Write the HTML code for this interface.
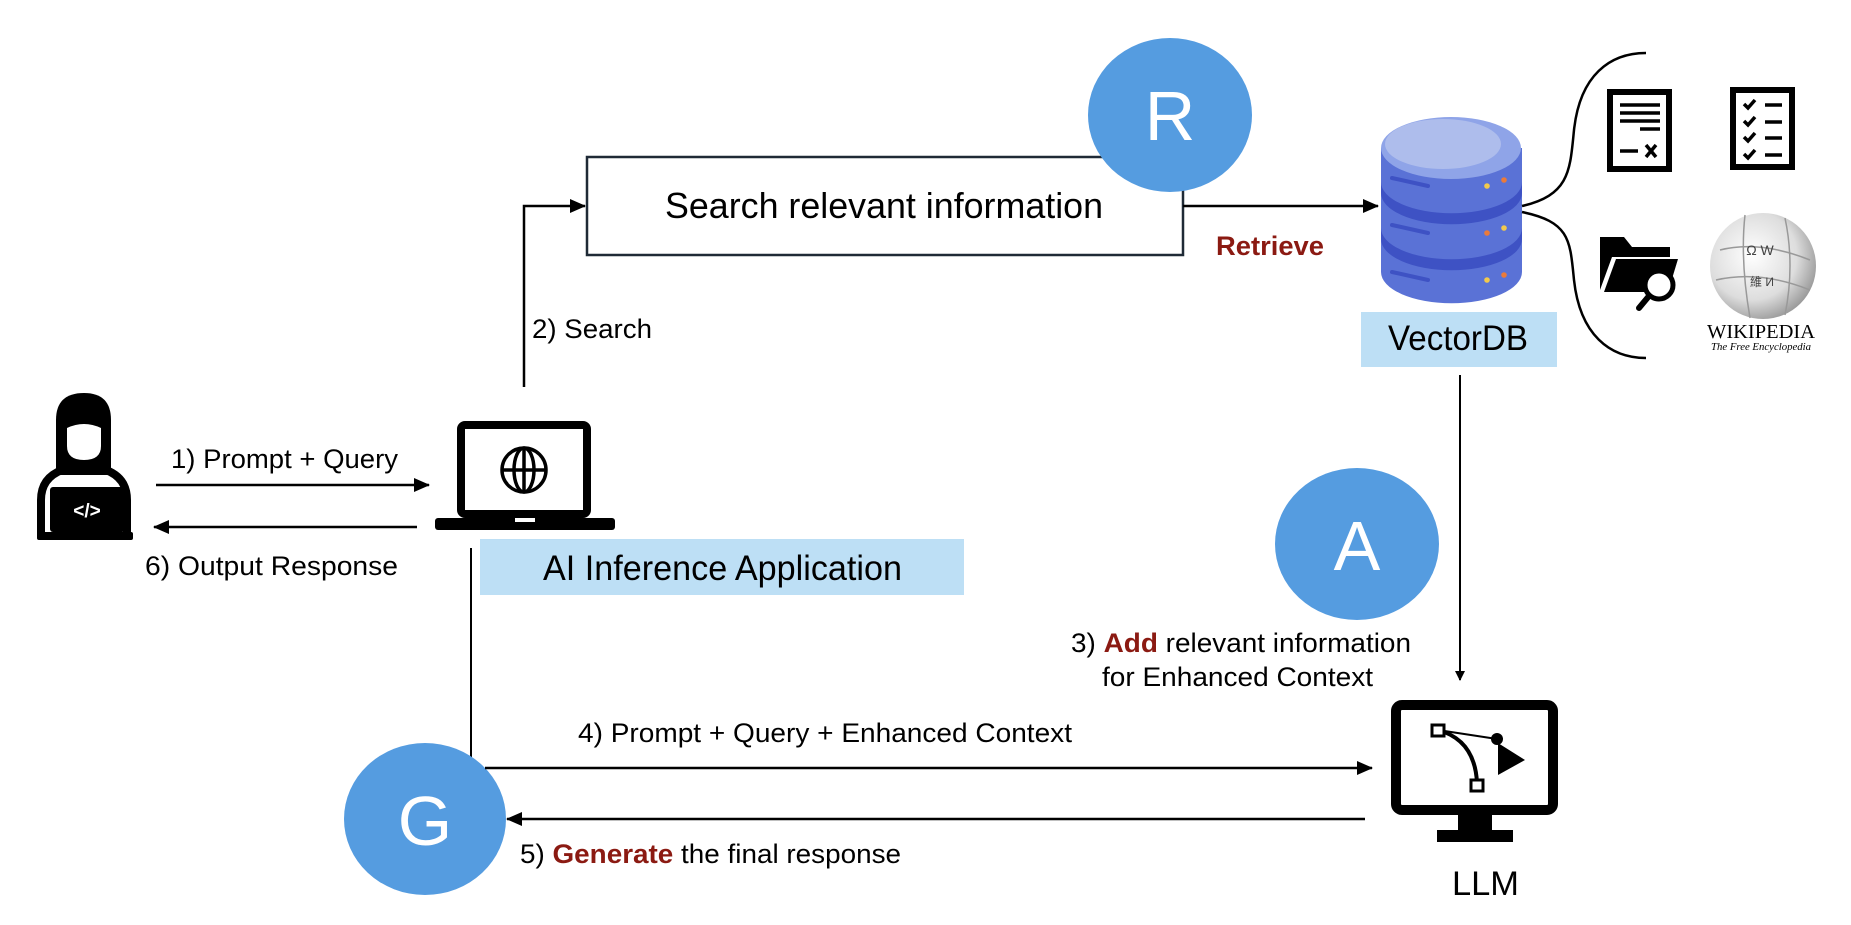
<!DOCTYPE html>
<html><head><meta charset="utf-8"><style>html,body{margin:0;padding:0;background:#fff}svg{display:block}text{font-family:"Liberation Sans",Arial,sans-serif}</style></head>
<body>
<svg width="1851" height="925" viewBox="0 0 1851 925" xmlns="http://www.w3.org/2000/svg">
<defs>
<marker id="ah" markerWidth="10" markerHeight="10" refX="9" refY="5" orient="auto" markerUnits="userSpaceOnUse"><path d="M0,0 L10,5 L0,10 z" fill="#000"/></marker>
<marker id="ah2" markerWidth="16" markerHeight="14" refX="15" refY="7" orient="auto" markerUnits="userSpaceOnUse"><path d="M0,0 L16,7 L0,14 z" fill="#000"/></marker>
</defs>

<!-- person -->
<g>
<path d="M41,538 L41,500 Q41,478 62,470 L72,466 Q84,472 96,466 L106,470 Q127,478 127,500 L127,538" fill="none" stroke="#000" stroke-width="8"/>
<path d="M56,475 L56,420 Q56,393 84,393 Q111,393 111,420 L111,475 Z" fill="#000"/>
<path d="M67,428 Q84,420 101,428 L101,446 Q101,460 84,460 Q67,460 67,446 Z" fill="#fff"/>
<rect x="50" y="487" width="75" height="45" rx="3" fill="#000"/>
<rect x="37" y="532" width="96" height="8" rx="2" fill="#000"/>
<text x="87" y="517" font-size="19" fill="#fff" text-anchor="middle" font-weight="bold">&lt;/&gt;</text>
</g>

<!-- arrows 1 / 6 -->
<line x1="156" y1="485" x2="429" y2="485" stroke="#000" stroke-width="2.5" marker-end="url(#ah2)"/>
<line x1="417" y1="527" x2="154" y2="527" stroke="#000" stroke-width="2.5" marker-end="url(#ah2)"/>
<text x="171" y="468" font-size="27" textLength="227" lengthAdjust="spacingAndGlyphs">1) Prompt + Query</text>
<text x="145" y="575" font-size="27" textLength="253" lengthAdjust="spacingAndGlyphs">6) Output Response</text>

<!-- laptop -->
<rect x="461" y="425" width="126" height="89" rx="4" fill="#fff" stroke="#000" stroke-width="8"/>
<rect x="435" y="518" width="180" height="12" rx="3" fill="#000"/>
<rect x="515" y="518" width="20" height="4" fill="#fff"/>
<g fill="none" stroke="#000" stroke-width="3.5">
<circle cx="524" cy="470" r="22"/>
<ellipse cx="524" cy="470" rx="10" ry="22"/>
<line x1="524" y1="448" x2="524" y2="492"/>
<line x1="502" y1="470" x2="546" y2="470"/>
</g>

<!-- AI box -->
<rect x="480" y="539" width="484" height="56" fill="#bddff5"/>
<text x="543" y="580" font-size="35" textLength="359" lengthAdjust="spacingAndGlyphs">AI Inference Application</text>

<!-- search path -->
<polyline points="524,387 524,206 585,206" fill="none" stroke="#000" stroke-width="2.5" marker-end="url(#ah2)"/>
<text x="532" y="338" font-size="27" textLength="120" lengthAdjust="spacingAndGlyphs">2) Search</text>
<rect x="587" y="157" width="596" height="98" fill="#fff" stroke="#1f2a36" stroke-width="2.5"/>
<text x="665" y="218" font-size="36" textLength="438" lengthAdjust="spacingAndGlyphs">Search relevant information</text>

<!-- R -->
<ellipse cx="1170" cy="115" rx="82" ry="77" fill="#559ce0"/>
<text x="1170" y="140" font-size="70" fill="#fff" text-anchor="middle">R</text>

<!-- retrieve -->
<line x1="1183" y1="206" x2="1378" y2="206" stroke="#000" stroke-width="2.5" marker-end="url(#ah2)"/>
<text x="1216" y="255" font-size="27" font-weight="bold" fill="#8b1a12" textLength="108" lengthAdjust="spacingAndGlyphs">Retrieve</text>

<!-- DB -->
<g>
<path d="M1381,148 L1381,272 A70,31 0 0 0 1522,272 L1522,148 Z" fill="#5a72d6"/>
<path d="M1381,182 A70,31 0 0 0 1522,182 L1522,193 A70,31 0 0 1 1381,193 Z" fill="#3e52c4"/>
<path d="M1381,228 A70,31 0 0 0 1522,228 L1522,239 A70,31 0 0 1 1381,239 Z" fill="#3e52c4"/>
<ellipse cx="1451" cy="148" rx="70" ry="31" fill="#8fa4e8"/>
<ellipse cx="1443" cy="144" rx="58" ry="25" fill="#aebdec"/>
<g stroke="#3e52c4" stroke-width="4" stroke-linecap="round"><line x1="1392" y1="178" x2="1428" y2="186"/><line x1="1392" y1="225" x2="1428" y2="233"/><line x1="1392" y1="272" x2="1428" y2="280"/></g>
<g><circle cx="1487" cy="186" r="2.8" fill="#f2c94c"/><circle cx="1504" cy="180" r="2.8" fill="#eb7a3a"/><circle cx="1487" cy="233" r="2.8" fill="#eb7a3a"/><circle cx="1504" cy="228" r="2.8" fill="#f2c94c"/><circle cx="1487" cy="280" r="2.8" fill="#f2c94c"/><circle cx="1504" cy="275" r="2.8" fill="#eb7a3a"/></g>
</g>
<rect x="1361" y="312" width="196" height="55" fill="#bddff5"/>
<text x="1388" y="350" font-size="35" textLength="140" lengthAdjust="spacingAndGlyphs">VectorDB</text>

<!-- brace -->
<path d="M1522,206 C1570,195 1570,170 1574,130 C1580,75 1610,53 1646,53" fill="none" stroke="#000" stroke-width="2.5"/>
<path d="M1522,212 C1570,222 1570,240 1574,280 C1580,335 1610,358 1646,358" fill="none" stroke="#000" stroke-width="2.5"/>

<!-- doc icon -->
<rect x="1610" y="92" width="59" height="77" fill="#fff" stroke="#000" stroke-width="6"/>
<g stroke="#000" stroke-width="3.5"><line x1="1620" y1="105" x2="1660" y2="105"/><line x1="1620" y1="113" x2="1660" y2="113"/><line x1="1620" y1="121" x2="1660" y2="121"/><line x1="1640" y1="129" x2="1660" y2="129"/><line x1="1620" y1="151" x2="1638" y2="151"/><line x1="1646" y1="145" x2="1656" y2="157"/><line x1="1656" y1="145" x2="1646" y2="157"/></g>
<!-- checklist -->
<rect x="1733" y="90" width="59" height="77" fill="#fff" stroke="#000" stroke-width="6"/>
<g stroke="#000" stroke-width="3.5" fill="none"><path d="M1744,104 l4,4 l7,-8"/><path d="M1744,121 l4,4 l7,-8"/><path d="M1744,137 l4,4 l7,-8"/><path d="M1744,154 l4,4 l7,-8"/><line x1="1765" y1="105" x2="1782" y2="105"/><line x1="1765" y1="122" x2="1782" y2="122"/><line x1="1765" y1="138" x2="1782" y2="138"/><line x1="1765" y1="155" x2="1782" y2="155"/></g>
<!-- folder -->
<path d="M1600,237 L1624,237 L1632,247 L1670,247 L1670,257 L1612,257 L1600,290 Z" fill="#000"/>
<path d="M1604,292 L1616,259 L1678,259 L1668,292 Z" fill="#000"/>
<circle cx="1659" cy="285" r="14" fill="#fff" stroke="#000" stroke-width="5"/>
<line x1="1649" y1="296" x2="1639" y2="308" stroke="#000" stroke-width="6" stroke-linecap="round"/>
<!-- wikipedia -->
<defs><radialGradient id="wg" cx="0.4" cy="0.4" r="0.7"><stop offset="0" stop-color="#fff"/><stop offset="0.6" stop-color="#ddd"/><stop offset="1" stop-color="#888"/></radialGradient></defs>
<circle cx="1763" cy="266" r="53" fill="url(#wg)"/>
<g fill="none" stroke="#999" stroke-width="1.5"><path d="M1720,250 Q1760,240 1810,260"/><path d="M1716,280 Q1760,270 1810,290"/><path d="M1745,215 Q1740,260 1750,318"/><path d="M1785,218 Q1795,265 1785,315"/></g>
<text x="1760" y="255" font-size="14" font-family="Liberation Serif" text-anchor="middle" fill="#444">Ω  W</text>
<text x="1762" y="286" font-size="12" font-family="Liberation Serif" text-anchor="middle" fill="#444">維  И</text>
<text x="1761" y="338" font-size="20" font-family="Liberation Serif" text-anchor="middle" textLength="108" lengthAdjust="spacingAndGlyphs" style="font-family:'Liberation Serif',serif">WIKIPEDIA</text>
<text x="1761" y="350" font-size="11" font-style="italic" text-anchor="middle" textLength="100" lengthAdjust="spacingAndGlyphs" style="font-family:'Liberation Serif',serif">The Free Encyclopedia</text>

<!-- down line to LLM -->
<line x1="1460" y1="375" x2="1460" y2="680" stroke="#000" stroke-width="2" marker-end="url(#ah)"/>

<!-- A -->
<ellipse cx="1357" cy="544" rx="82" ry="76" fill="#559ce0"/>
<text x="1357" y="570" font-size="70" fill="#fff" text-anchor="middle">A</text>
<text x="1071" y="652" font-size="27" textLength="340" lengthAdjust="spacingAndGlyphs">3) <tspan font-weight="bold" fill="#8b1a12">Add</tspan> relevant information</text>
<text x="1102" y="686" font-size="27" textLength="271" lengthAdjust="spacingAndGlyphs">for Enhanced Context</text>

<!-- LLM monitor -->
<rect x="1396" y="705" width="157" height="105" rx="6" fill="#fff" stroke="#000" stroke-width="10"/>
<rect x="1458" y="813" width="34" height="18" fill="#000"/>
<rect x="1437" y="830" width="76" height="12" fill="#000"/>
<path d="M1438,730 Q1475,740 1477,783" fill="none" stroke="#000" stroke-width="4"/>
<line x1="1438" y1="730" x2="1497" y2="739" stroke="#000" stroke-width="2"/>
<rect x="1432" y="725" width="12" height="11" fill="#fff" stroke="#000" stroke-width="3"/>
<rect x="1471" y="780" width="12" height="11" fill="#fff" stroke="#000" stroke-width="3"/>
<circle cx="1497" cy="739" r="6" fill="#000"/>
<path d="M1498,743 L1525,760 L1498,775 Z" fill="#000"/>
<text x="1452" y="895" font-size="34" textLength="67" lengthAdjust="spacingAndGlyphs">LLM</text>

<!-- G path -->
<line x1="471" y1="548" x2="471" y2="760" stroke="#000" stroke-width="2"/>
<ellipse cx="425" cy="819" rx="81" ry="76" fill="#559ce0"/>
<text x="425" y="845" font-size="70" fill="#fff" text-anchor="middle">G</text>
<line x1="485" y1="768" x2="1372" y2="768" stroke="#000" stroke-width="2.5" marker-end="url(#ah2)"/>
<line x1="1365" y1="819" x2="507" y2="819" stroke="#000" stroke-width="2.5" marker-end="url(#ah2)"/>
<text x="578" y="742" font-size="27" textLength="494" lengthAdjust="spacingAndGlyphs">4) Prompt + Query + Enhanced Context</text>
<text x="520" y="863" font-size="27" textLength="381" lengthAdjust="spacingAndGlyphs">5) <tspan font-weight="bold" fill="#8b1a12">Generate</tspan> the final response</text>
</svg>
</body></html>
